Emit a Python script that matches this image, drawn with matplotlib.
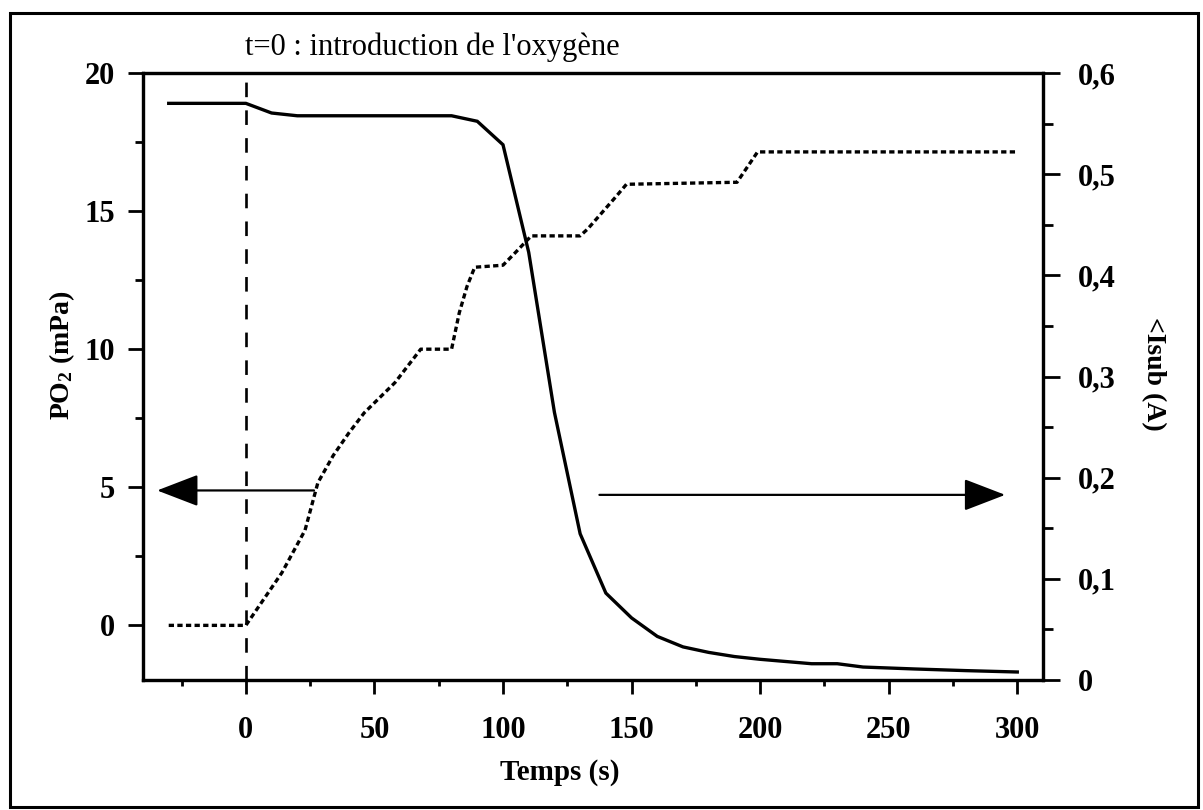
import matplotlib
matplotlib.use('Agg')
import matplotlib.pyplot as plt
from matplotlib.patches import Rectangle
from matplotlib.ticker import MultipleLocator

plt.rcParams['font.family'] = ['Liberation Serif', 'DejaVu Serif']
plt.rcParams['mathtext.fontset'] = 'custom'
plt.rcParams['mathtext.rm'] = 'Liberation Serif:bold'
plt.rcParams['mathtext.bf'] = 'Liberation Serif:bold'
plt.rcParams['mathtext.it'] = 'Liberation Serif:bold'
plt.rcParams['lines.scale_dashes'] = False

# ---- data ----
time_po2 = [-30, 0, 10, 20, 80, 90, 100, 110, 120, 130, 140, 150, 160, 170,
            180, 190, 200, 210, 220, 230, 240, 260, 280, 300]
po2 = [18.9, 18.9, 18.55, 18.45, 18.45, 18.25, 17.4, 13.5, 7.7, 3.3, 1.15,
       0.25, -0.42, -0.8, -1.0, -1.15, -1.25, -1.33, -1.41, -1.41, -1.53,
       -1.6, -1.66, -1.71]

time_isub = [-30, 0, 14, 23, 28, 34, 40, 46, 58, 68, 80, 83, 86, 89, 100,
             105, 111, 130, 133, 144, 148, 191, 199, 300]
isub = [0.054, 0.054, 0.106, 0.148, 0.195, 0.222, 0.244, 0.264, 0.294,
        0.327, 0.327, 0.363, 0.389, 0.408, 0.41, 0.423, 0.439, 0.439, 0.446,
        0.478, 0.49, 0.492, 0.522, 0.522]

x_ticks = [0, 50, 100, 150, 200, 250, 300]
left_ticks = [0, 5, 10, 15, 20]
right_ticks = [0, 0.1, 0.2, 0.3, 0.4, 0.5, 0.6]
right_labels = ['0', '0,1', '0,2', '0,3', '0,4', '0,5', '0,6']

title_text = "t=0 : introduction de l'oxygène"

# ---- figure ----
fig = plt.figure(figsize=(12.03, 8.10), dpi=100)
ax = fig.add_axes([143/1203, 1-680/810, 900/1203, 607/810])
ax2 = ax.twinx()

ax.plot(time_po2, po2, color='black', lw=2.4, solid_joinstyle='miter')
ax2.plot(time_isub, isub, color='black', lw=2.4, dashes=(3.8, 2.4),
         dash_capstyle='butt')

ax.axvline(0, color='black', lw=1.9, dashes=(10.5, 9.5))

ax.set_xlim(-40, 310)
ax.set_ylim(-2, 20)
ax2.set_ylim(0, 0.6)

ax.set_xticks(x_ticks)
ax.set_xticklabels([str(v) for v in x_ticks])
ax.xaxis.set_minor_locator(MultipleLocator(25))
ax.set_yticks(left_ticks)
ax.set_yticklabels([str(v) for v in left_ticks])
ax.yaxis.set_minor_locator(MultipleLocator(2.5))
ax2.set_yticks(right_ticks)
ax2.set_yticklabels(right_labels)
ax2.yaxis.set_minor_locator(MultipleLocator(0.05))

for a in (ax, ax2):
    for s in a.spines.values():
        s.set_linewidth(2.3)
        s.set_color('black')

ax.tick_params(axis='x', which='major', direction='out', length=10, width=2,
               pad=16, labelsize=22)
ax.tick_params(axis='x', which='minor', direction='out', length=4, width=2)
ax.tick_params(axis='y', which='major', direction='out', length=11, width=2,
               pad=9, labelsize=22)
ax.tick_params(axis='y', which='minor', direction='out', length=6, width=2)
ax2.tick_params(axis='y', which='major', direction='out', length=12, width=2,
                pad=13, labelsize=22)
ax2.tick_params(axis='y', which='minor', direction='out', length=7, width=2)
for lab in ax.get_xticklabels() + ax.get_yticklabels() + ax2.get_yticklabels():
    lab.set_fontweight('bold')

# arrows
ax.annotate('', xy=(-34.5, 4.87), xytext=(26.5, 4.87),
            arrowprops=dict(arrowstyle='-|>,head_length=2.6,head_width=1.0',
                            lw=1.6, color='black', shrinkA=0, shrinkB=0,
                            mutation_scale=10))
ax.annotate('', xy=(295.3, 4.71), xytext=(137.5, 4.71),
            arrowprops=dict(arrowstyle='-|>,head_length=2.6,head_width=1.0',
                            lw=1.6, color='black', shrinkA=0, shrinkB=0,
                            mutation_scale=10))

# texts
fig.text(245/1203, 1-47/810, title_text, fontsize=22, ha='left', va='center')
fig.text(560/1203, 1-773/810, 'Temps (s)', fontsize=21, fontweight='bold',
         ha='center', va='center')
fig.text(62/1203, 1-355/810, r'PO$_2$ (mPa)', fontsize=20, fontweight='bold',
         rotation=90, ha='center', va='center')
fig.text(1153/1203, 1-374/810, '<Isub (A)', fontsize=20, fontweight='bold',
         rotation=-90, ha='center', va='center')

# outer frame
fig.patches.append(Rectangle((10/1203, 3/810), 1188/1203, 794/810,
                             transform=fig.transFigure, fill=False,
                             lw=2.2, edgecolor='black'))

fig.savefig('out.png', dpi=100)
